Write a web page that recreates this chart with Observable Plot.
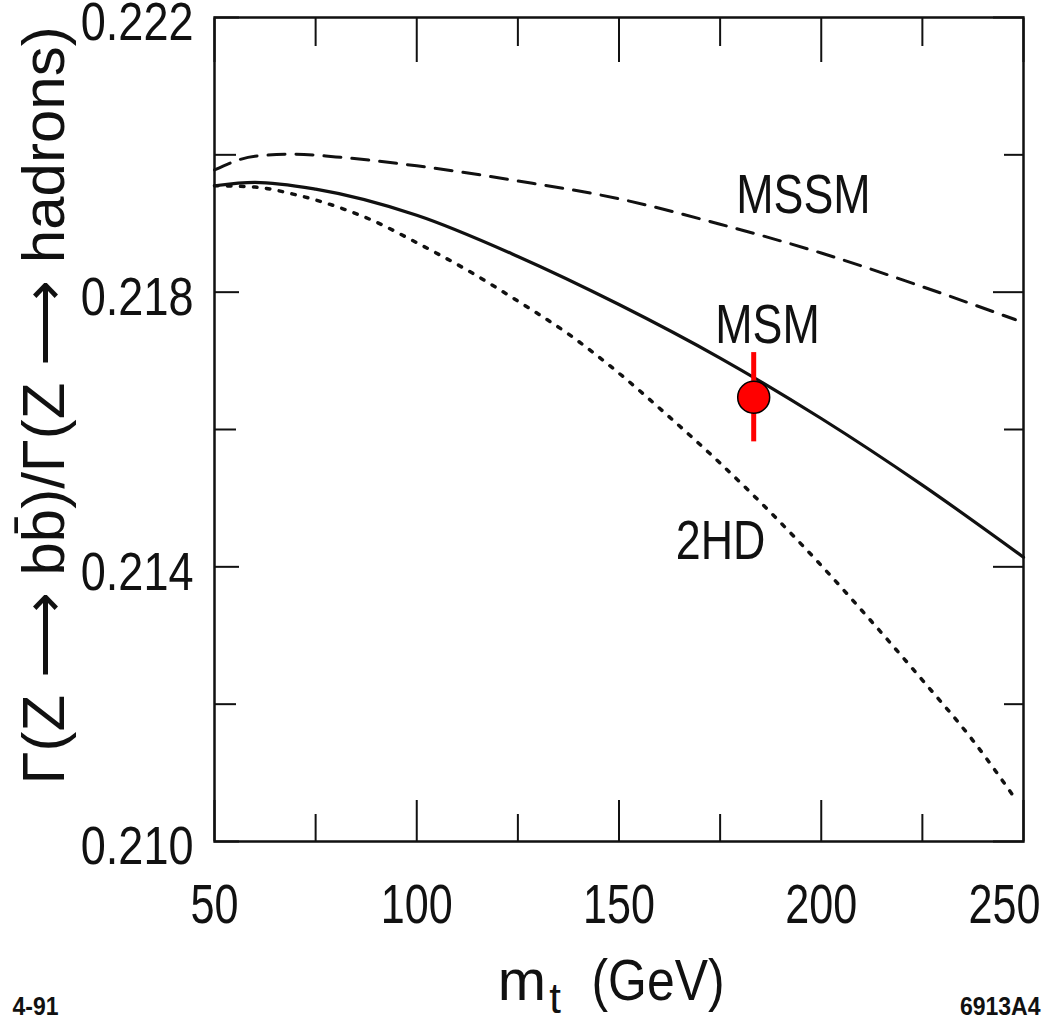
<!DOCTYPE html>
<html>
<head>
<meta charset="utf-8">
<script src="https://cdn.jsdelivr.net/npm/d3@7"></script>
<script src="https://cdn.jsdelivr.net/npm/@observablehq/plot@0.6"></script>
<style>
  html, body { margin: 0; padding: 0; background: #fff; }
  #chart svg { display: block; }
</style>
</head>
<body>
<div id="chart"></div>
<script>
// ---- data ----
const msmMass  = [50, 60, 75, 100, 125, 150, 175, 200, 225, 250];
const msmRatio = [0.21955, 0.21960, 0.21950, 0.21912, 0.21852, 0.21782, 0.21704, 0.21616, 0.21519, 0.21414];

const mssmMass  = [50, 60, 70, 80, 100, 125, 150, 175, 200, 225, 248];
const mssmRatio = [0.21978, 0.21998, 0.22001, 0.21997, 0.21984, 0.21962, 0.21936, 0.21899, 0.21857, 0.21808, 0.21760];

const thdMass  = [50, 60, 70, 80, 90, 100, 112.5, 125, 137.5, 150, 162.5, 175, 187.5, 200, 212.5, 225, 237.5, 248];
const thdRatio = [0.21955, 0.21953, 0.21942, 0.21925, 0.21902, 0.21872, 0.21832, 0.21787, 0.21739, 0.21682, 0.21618, 0.21551, 0.21479, 0.21402, 0.21320, 0.21235, 0.21147, 0.21062];

const pointMass = [183.3];
const pointRatio = [0.21647];
const pointErr = [0.00065];

const curveNames = ["MSSM", "MSM", "2HD"];
const curveLabelMass = [195.6, 186.7, 175.1];
const curveLabelRatio = [0.21941, 0.21752, 0.21437];

const xMajor = [50, 100, 150, 200, 250];
const xMinor = [75, 125, 175, 225];
const yMajor = [0.210, 0.214, 0.218, 0.222];
const yMinor = [0.212, 0.216, 0.220];

// ---- build tables ----
const toRows = (ms, vs) => ms.map((m, i) => ({m, v: vs[i]}));
const msm = toRows(msmMass, msmRatio);
const mssm = toRows(mssmMass, mssmRatio);
const thd = toRows(thdMass, thdRatio);
const pts = pointMass.map((m, i) => ({m, v: pointRatio[i], lo: pointRatio[i] - pointErr[i], hi: pointRatio[i] + pointErr[i]}));
const labels = curveNames.map((name, i) => ({name, m: curveLabelMass[i], v: curveLabelRatio[i]}));

const sans = "'Liberation Sans', Arial, Helvetica, sans-serif";
const blank = () => "";
const ink = "#111";

const chart = Plot.plot({
  width: 1044,
  height: 1015,
  marginLeft: 214,
  marginRight: 21,
  marginTop: 17,
  marginBottom: 174,
  x: {domain: [50, 250]},
  y: {domain: [0.210, 0.222]},
  style: {fontFamily: sans, background: "#fff", color: ink},
  marks: [
    // inward tick marks on all four sides
    Plot.axisX(xMajor, {anchor: "bottom", tickSize: -41, tickFormat: blank, label: null, strokeWidth: 2}),
    Plot.axisX(xMinor, {anchor: "bottom", tickSize: -27, tickFormat: blank, label: null, strokeWidth: 2}),
    Plot.axisX(xMajor, {anchor: "top", tickSize: -44, tickFormat: blank, label: null, strokeWidth: 2}),
    Plot.axisX(xMinor, {anchor: "top", tickSize: -28, tickFormat: blank, label: null, strokeWidth: 2}),
    Plot.axisY(yMajor, {anchor: "left", tickSize: -25, tickFormat: blank, label: null, strokeWidth: 2}),
    Plot.axisY(yMinor, {anchor: "left", tickSize: -22, tickFormat: blank, label: null, strokeWidth: 2}),
    Plot.axisY(yMajor, {anchor: "right", tickSize: -31, tickFormat: blank, label: null, strokeWidth: 2}),
    Plot.axisY(yMinor, {anchor: "right", tickSize: -20, tickFormat: blank, label: null, strokeWidth: 2}),
    // tick labels
    Plot.axisX(xMajor.slice(0, 4), {anchor: "bottom", tickSize: 0, tickPadding: 42, fontSize: 56, label: null, tickFormat: d3.format("d")}),
    Plot.axisX(xMajor.slice(4), {anchor: "bottom", tickSize: 0, tickPadding: 42, fontSize: 56, label: null, tickFormat: d3.format("d"), dx: -19}),
    Plot.axisY(yMajor, {anchor: "left", tickSize: 0, tickPadding: 21, fontSize: 53, label: null, tickFormat: d3.format(".3f"), dy: 6}),
    Plot.frame({stroke: ink, strokeWidth: 2.5}),
    // curves
    Plot.line(mssm, {x: "m", y: "v", curve: "monotone-x", stroke: ink, strokeWidth: 3, strokeDasharray: "17,11"}),
    Plot.line(msm, {x: "m", y: "v", curve: "monotone-x", stroke: ink, strokeWidth: 3.2}),
    Plot.line(thd, {x: "m", y: "v", curve: "monotone-x", stroke: ink, strokeWidth: 3.5, strokeDasharray: "3.5,9.5"}),
    // curve labels
    Plot.text(labels, {x: "m", y: "v", text: "name", fontSize: 56, fill: ink, textAnchor: "middle", lineAnchor: "middle"}),
    // measurement
    Plot.ruleX(pts, {x: "m", y1: "lo", y2: "hi", stroke: "#f00", strokeWidth: 5}),
    Plot.dot(pts, {x: "m", y: "v", r: 16, fill: "#f00", stroke: "#000", strokeWidth: 1.5}),
    // axis titles
    Plot.text(["Γ(Z ⟶ bb̄)/Γ(Z ⟶ hadrons)"], {frameAnchor: "left", rotate: -90, dx: -151, dy: -24, fontSize: 60, textAnchor: "middle", lineAnchor: "bottom", fill: ink}),
    Plot.text(["m"], {frameAnchor: "bottom", dx: -97, dy: 158, fontSize: 58, textAnchor: "middle", lineAnchor: "bottom", fill: ink}),
    Plot.text(["t"], {frameAnchor: "bottom", dx: -64, dy: 171, fontSize: 42, textAnchor: "middle", lineAnchor: "bottom", fill: ink}),
    Plot.text(["(GeV)"], {frameAnchor: "bottom", dx: 39, dy: 158, fontSize: 58, textAnchor: "middle", lineAnchor: "bottom", fill: ink}),
    // corner notes
    Plot.text(["4-91"], {frameAnchor: "bottom-left", dx: -202, dy: 173, fontSize: 25, fontWeight: "bold", textAnchor: "start", lineAnchor: "bottom", fill: ink}),
    Plot.text(["6913A4"], {frameAnchor: "bottom-right", dx: 17, dy: 173, fontSize: 25, fontWeight: "bold", textAnchor: "end", lineAnchor: "bottom", fill: ink})
  ]
});
document.getElementById("chart").append(chart);

// the original typeface is a condensed Helvetica: compress glyphs to match
const squeeze = (t, f) => {
  const len = t.getComputedTextLength();
  if (len > 0) {
    t.setAttribute("textLength", (len * f).toFixed(1));
    t.setAttribute("lengthAdjust", "spacingAndGlyphs");
  }
};
chart.querySelectorAll('g[aria-label="x-axis tick label"] text').forEach((t) => squeeze(t, 0.77));
chart.querySelectorAll('g[aria-label="y-axis tick label"] text').forEach((t) => squeeze(t, 0.85));
const byContent = new Map([
  ...curveNames.map((n) => [n, 0.80]),
  ["(GeV)", 0.86],
  ["4-91", 0.92],
  ["6913A4", 0.92]
]);
chart.querySelectorAll("text").forEach((t) => {
  const f = byContent.get(t.textContent);
  if (f) squeeze(t, f);
});
</script>
</body>
</html>
